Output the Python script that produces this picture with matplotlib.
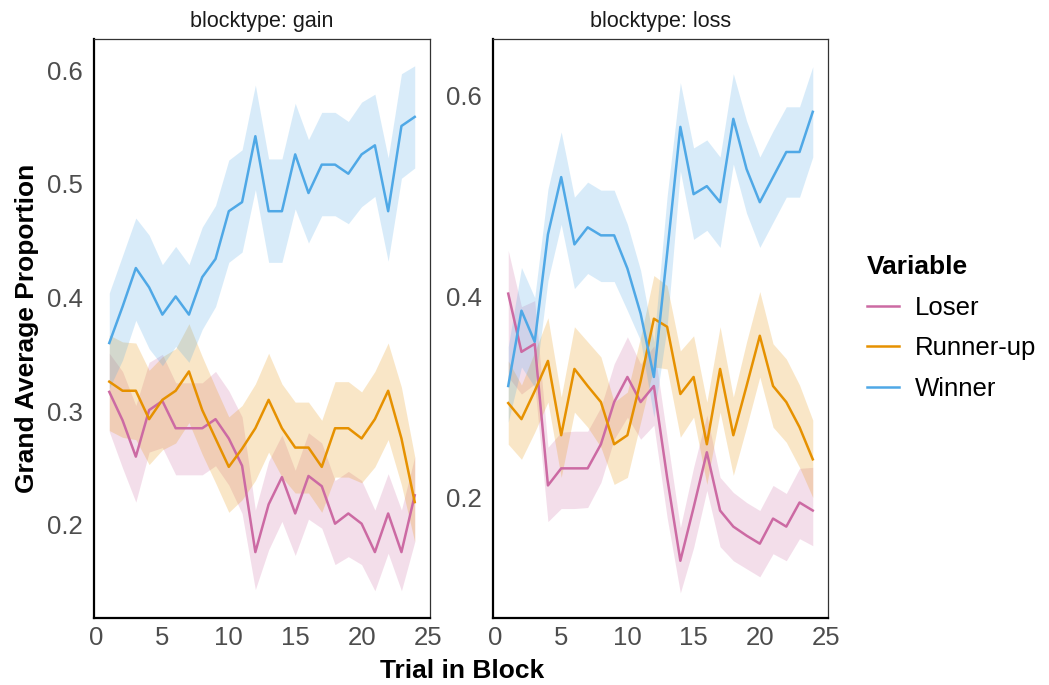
import matplotlib
matplotlib.use("Agg")
import matplotlib.pyplot as plt

plt.rcParams['font.family'] = ['Liberation Sans', 'DejaVu Sans']

trial = list(range(1, 25))

# blocktype: gain
win_g = [0.360, 0.392, 0.426, 0.409, 0.385, 0.401, 0.385, 0.418, 0.434, 0.476, 0.484, 0.542,
         0.476, 0.476, 0.526, 0.492, 0.517, 0.517, 0.509, 0.526, 0.534, 0.476, 0.551, 0.559]
win_g_hi = [0.404, 0.437, 0.470, 0.455, 0.429, 0.445, 0.429, 0.462, 0.481, 0.521, 0.530, 0.587,
            0.522, 0.522, 0.571, 0.539, 0.563, 0.563, 0.555, 0.572, 0.579, 0.523, 0.597, 0.604]
win_g_lo = [0.320, 0.345, 0.380, 0.355, 0.340, 0.357, 0.343, 0.372, 0.392, 0.431, 0.440, 0.495,
            0.431, 0.431, 0.478, 0.448, 0.472, 0.472, 0.465, 0.480, 0.489, 0.432, 0.505, 0.514]
run_g = [0.326, 0.318, 0.318, 0.293, 0.310, 0.318, 0.335, 0.301, 0.276, 0.251, 0.267, 0.285,
         0.310, 0.285, 0.268, 0.268, 0.251, 0.285, 0.285, 0.276, 0.293, 0.318, 0.276, 0.220]
run_g_hi = [0.367, 0.361, 0.360, 0.336, 0.348, 0.355, 0.377, 0.348, 0.321, 0.295, 0.305, 0.324,
            0.351, 0.324, 0.308, 0.308, 0.292, 0.326, 0.326, 0.317, 0.335, 0.360, 0.321, 0.260]
run_g_lo = [0.283, 0.277, 0.275, 0.253, 0.266, 0.272, 0.290, 0.262, 0.237, 0.211, 0.222, 0.239,
            0.264, 0.242, 0.228, 0.228, 0.211, 0.242, 0.242, 0.237, 0.251, 0.275, 0.235, 0.185]
los_g = [0.317, 0.292, 0.260, 0.301, 0.309, 0.285, 0.285, 0.285, 0.293, 0.276, 0.252, 0.176,
         0.218, 0.242, 0.210, 0.243, 0.234, 0.201, 0.210, 0.201, 0.176, 0.210, 0.176, 0.226]
los_g_hi = [0.351, 0.335, 0.305, 0.343, 0.350, 0.325, 0.325, 0.325, 0.335, 0.318, 0.295, 0.213,
            0.256, 0.279, 0.248, 0.281, 0.272, 0.239, 0.247, 0.239, 0.213, 0.245, 0.213, 0.260]
los_g_lo = [0.282, 0.250, 0.220, 0.264, 0.268, 0.244, 0.244, 0.244, 0.252, 0.235, 0.210, 0.143,
            0.178, 0.203, 0.173, 0.205, 0.197, 0.165, 0.172, 0.165, 0.142, 0.175, 0.142, 0.185]

# blocktype: loss
win_l = [0.311, 0.386, 0.355, 0.462, 0.519, 0.452, 0.469, 0.461, 0.461, 0.428, 0.383, 0.320,
         0.443, 0.569, 0.502, 0.510, 0.494, 0.577, 0.527, 0.494, 0.519, 0.544, 0.544, 0.584]
win_l_hi = [0.350, 0.429, 0.399, 0.507, 0.564, 0.499, 0.514, 0.506, 0.506, 0.472, 0.426, 0.355,
            0.500, 0.613, 0.548, 0.556, 0.539, 0.622, 0.575, 0.539, 0.565, 0.589, 0.589, 0.629]
win_l_lo = [0.275, 0.330, 0.310, 0.416, 0.472, 0.408, 0.423, 0.415, 0.415, 0.386, 0.356, 0.280,
            0.370, 0.525, 0.457, 0.466, 0.449, 0.532, 0.483, 0.449, 0.474, 0.499, 0.499, 0.539]
run_l = [0.294, 0.278, 0.306, 0.336, 0.262, 0.328, 0.311, 0.295, 0.253, 0.262, 0.316, 0.378,
         0.370, 0.303, 0.320, 0.253, 0.328, 0.262, 0.311, 0.361, 0.311, 0.295, 0.270, 0.238]
run_l_hi = [0.336, 0.312, 0.345, 0.379, 0.300, 0.370, 0.355, 0.340, 0.295, 0.305, 0.360, 0.421,
            0.411, 0.346, 0.361, 0.295, 0.370, 0.300, 0.355, 0.405, 0.353, 0.338, 0.312, 0.277]
run_l_lo = [0.253, 0.238, 0.265, 0.295, 0.220, 0.285, 0.270, 0.250, 0.213, 0.220, 0.275, 0.330,
            0.328, 0.260, 0.280, 0.213, 0.285, 0.222, 0.270, 0.320, 0.270, 0.255, 0.230, 0.200]
los_l = [0.403, 0.345, 0.353, 0.212, 0.229, 0.229, 0.229, 0.253, 0.295, 0.320, 0.295, 0.311,
         0.220, 0.137, 0.190, 0.245, 0.187, 0.171, 0.162, 0.154, 0.179, 0.171, 0.195, 0.187]
los_l_hi = [0.446, 0.390, 0.396, 0.250, 0.265, 0.266, 0.266, 0.290, 0.333, 0.360, 0.333, 0.351,
            0.260, 0.170, 0.230, 0.282, 0.220, 0.205, 0.195, 0.187, 0.212, 0.204, 0.229, 0.230]
los_l_lo = [0.320, 0.303, 0.313, 0.176, 0.189, 0.189, 0.190, 0.215, 0.258, 0.280, 0.258, 0.272,
            0.180, 0.105, 0.150, 0.207, 0.151, 0.137, 0.129, 0.121, 0.144, 0.137, 0.159, 0.152]

names = ["Loser", "Runner-up", "Winner"]
colors = {"Loser": "#CC6AA3", "Runner-up": "#E69100", "Winner": "#4FA8E6"}

panels = [
    ("blocktype: gain", {"Loser": (los_g, los_g_lo, los_g_hi),
                         "Runner-up": (run_g, run_g_lo, run_g_hi),
                         "Winner": (win_g, win_g_lo, win_g_hi)},
     [0.2, 0.3, 0.4, 0.5, 0.6], (0.118, 0.628)),
    ("blocktype: loss", {"Loser": (los_l, los_l_lo, los_l_hi),
                         "Runner-up": (run_l, run_l_lo, run_l_hi),
                         "Winner": (win_l, win_l_lo, win_l_hi)},
     [0.2, 0.4, 0.6], (0.080, 0.657)),
]

W, H = 1049, 685
fig = plt.figure(figsize=(W / 100, H / 100), dpi=100)
boxes = [(94, 38.5, 430, 618), (493, 38.5, 828, 618)]

handles = []
for (title, series, yt, ylim), (x0, y0, x1, y1) in zip(panels, boxes):
    ax = fig.add_axes([x0 / W, 1 - y1 / H, (x1 - x0) / W, (y1 - y0) / H])
    for nm in names:
        m, lo, hi = series[nm]
        ax.fill_between(trial, lo, hi, color=colors[nm], alpha=0.22, lw=0)
    hs = []
    for nm in names:
        m, lo, hi = series[nm]
        ln, = ax.plot(trial, m, color=colors[nm], lw=1.8, label=nm)
        hs.append(ln)
    handles = hs
    ax.set_xlim(-0.15, 25.15)
    ax.set_ylim(*ylim)
    ax.set_xticks([0, 5, 10, 15, 20, 25])
    ax.set_yticks(yt)
    ax.set_yticklabels([f"{v:.1f}" for v in yt])
    ax.tick_params(length=0, labelsize=18.5, labelcolor="#4D4D4D", pad=8)
    ax.tick_params(axis="x", pad=6)
    for s in ["left", "bottom"]:
        ax.spines[s].set_linewidth(1.6)
        ax.spines[s].set_color("black")
    for s in ["top", "right"]:
        ax.spines[s].set_linewidth(0.9)
        ax.spines[s].set_color("#333333")
    ax.set_title(title, fontsize=15.5, color="#1A1A1A", pad=8)

fig.text(27 / W, 1 - 328 / H, "Grand Average Proportion", rotation=90,
         ha="center", va="center", fontsize=19, fontweight="bold")
fig.text(462 / W, 1 - 671 / H, "Trial in Block", ha="center", va="center",
         fontsize=19, fontweight="bold")

leg = fig.legend(handles, names, loc="upper left", bbox_to_anchor=(867 / W, 1 - 255 / H),
                 frameon=False, fontsize=18.5, title="Variable", handlelength=1.25,
                 handletextpad=0.62, labelspacing=0.65, borderpad=0, borderaxespad=0,
                 alignment="left")
leg.get_title().set_fontsize(19)
leg.get_title().set_fontweight("bold")

fig.savefig("out.png", dpi=100)
